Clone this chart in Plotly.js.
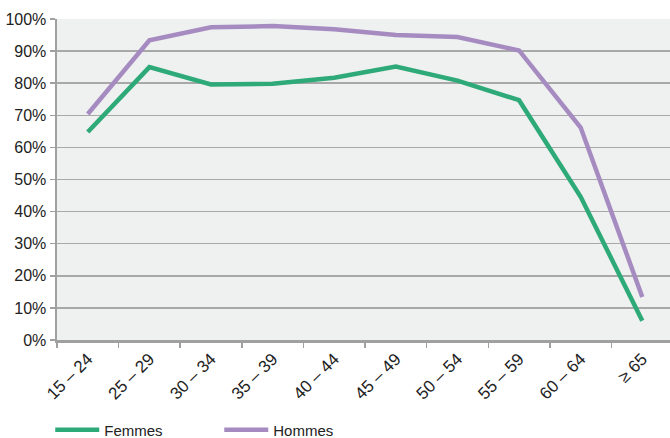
<!DOCTYPE html>
<html><head><meta charset="utf-8">
<script src="https://cdn.plot.ly/plotly-3.0.1.min.js"></script>
<style>html,body{margin:0;padding:0;background:#fff;}#c{width:670px;height:438px;}</style>
</head><body><div id="c"></div>
<script>
var categories = ["15 – 24","25 – 29","30 – 34","35 – 39","40 – 44","45 – 49","50 – 54","55 – 59","60 – 64","≥ 65"];
var femmes = [64.8, 85.0, 79.6, 79.8, 81.7, 85.2, 80.8, 74.7, 44.6, 6.0];
var hommes = [70.4, 93.4, 97.4, 97.8, 96.8, 95.0, 94.4, 90.2, 66.2, 13.4];
var yTicks = [0,10,20,30,40,50,60,70,80,90,100];
var font = "'Liberation Sans Narrow', 'Liberation Sans', Arial, sans-serif";
var data = [
  {x: categories, y: femmes, name: "Femmes", type: "scatter", mode: "lines",
   line: {color: "#2eaa78", width: 4.5}},
  {x: categories, y: hommes, name: "Hommes", type: "scatter", mode: "lines",
   line: {color: "#a68bc0", width: 4.5}}
];
var layout = {
  width: 670, height: 438,
  margin: {l: 57, r: 0, t: 19, b: 98},
  paper_bgcolor: "#ffffff", plot_bgcolor: "#eff0f0",
  font: {family: font, size: 16, color: "#222"},
  showlegend: true,
  legend: {orientation: "h", xref: "container", yref: "container",
           x: 0.075, y: 0.018, xanchor: "left", yanchor: "middle",
           font: {family: font, size: 15, color: "#222"}, itemwidth: 44,
           entrywidth: 110, entrywidthmode: "pixels", tracegroupgap: 0},
  xaxis: {type: "category", range: [-0.5, 9.45], tickson: "boundaries", automargin: false,
          ticks: "outside", ticklen: 5, tickcolor: "#a0a0a0", tickwidth: 1.5,
          tickfont: {size: 17},
          tickangle: -45, showgrid: false, showline: true, linecolor: "#a0a0a0", linewidth: 2.5,
          fixedrange: true},
  yaxis: {range: [0, 100], tickvals: yTicks, ticktext: yTicks.map(function(v){return v+"%";}),
          automargin: false,
          ticks: "outside", ticklen: 5, tickcolor: "#a0a0a0", tickwidth: 1.5,
          showgrid: true, gridcolor: "#a8a8a8", gridwidth: 1.5,
          showline: true, linecolor: "#a0a0a0", linewidth: 2.5, zeroline: false, fixedrange: true}
};
Plotly.newPlot("c", data, layout, {displayModeBar: false, staticPlot: true});
</script></body></html>
